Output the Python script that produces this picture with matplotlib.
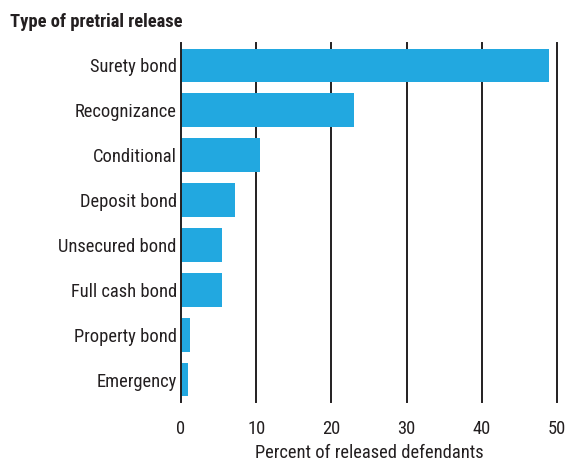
import matplotlib
matplotlib.use("Agg")
import numpy as np
from matplotlib import pyplot as plt
from matplotlib import font_manager

categories = ["Surety bond", "Recognizance", "Conditional", "Deposit bond",
              "Unsecured bond", "Full cash bond", "Property bond", "Emergency"]
percents = [49.0, 23.0, 10.5, 7.2, 5.5, 5.5, 1.2, 0.9]
x_ticks = [0, 10, 20, 30, 40, 50]

names = {f.name for f in font_manager.fontManager.ttflist}
family = "DejaVu Sans"
for cand in ["Liberation Sans Narrow", "Roboto Condensed", "Open Sans Condensed",
             "Noto Sans Condensed", "DejaVu Sans Condensed"]:
    if cand in names:
        family = cand
        break
plt.rcParams["font.family"] = [family, "DejaVu Sans"]
plt.rcParams["font.stretch"] = "condensed"

fs = 13.3
fig = plt.figure(figsize=(5.68, 4.65), dpi=100)
ax = fig.add_axes([181 / 568, 1 - 402 / 465, (557 - 181) / 568, (402 - 43) / 465])

y = np.arange(len(categories))
ax.barh(y, percents, height=0.75, color="#22a8e0", zorder=3)

ax.set_xlim(0, 50)
ax.set_ylim(len(categories) - 0.5, -0.5)
ax.set_yticks(y)
ax.set_yticklabels(categories, fontsize=fs, color="#231f20")
ax.set_xticks(x_ticks)
ax.set_xticklabels([str(t) for t in x_ticks], fontsize=fs, color="#231f20")
ax.tick_params(axis="both", length=0)
ax.tick_params(axis="y", pad=3)
ax.tick_params(axis="x", pad=13)

for t in x_ticks[1:]:
    ax.axvline(t, color="#231f20", lw=1.4, zorder=1, clip_on=False)

for s in ["top", "right", "bottom"]:
    ax.spines[s].set_visible(False)
ax.spines["left"].set_color("#231f20")
ax.spines["left"].set_linewidth(1.4)
ax.spines["left"].set_zorder(4)

ax.set_xlabel("Percent of released defendants", fontsize=fs, color="#231f20", labelpad=4)
fig.text(10 / 568, 1 - 22 / 465, "Type of pretrial release", fontsize=fs,
         fontweight="bold", color="#231f20", ha="left", va="center")

fig.savefig("out.png", dpi=100)
